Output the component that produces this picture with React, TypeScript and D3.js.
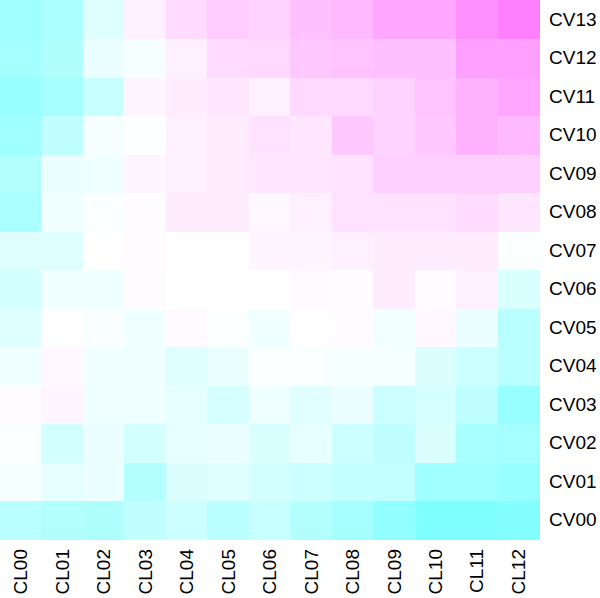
import React from "react";
import * as d3 from "d3";

const columns = ["CL00","CL01","CL02","CL03","CL04","CL05","CL06","CL07","CL08","CL09","CL10","CL11","CL12"];
const rows = ["CV00","CV01","CV02","CV03","CV04","CV05","CV06","CV07","CV08","CV09","CV10","CV11","CV12","CV13"];

// values per row (CV00..CV13), each across CL00..CL12; -1 = cyan, +1 = magenta
const cv00 = [-0.55,-0.6,-0.62,-0.5,-0.4,-0.55,-0.43,-0.6,-0.7,-0.87,-1,-1,-0.98];
const cv01 = [-0.08,-0.2,-0.15,-0.6,-0.28,-0.25,-0.35,-0.4,-0.47,-0.47,-0.75,-0.75,-0.82];
const cv02 = [-0.04,-0.35,-0.15,-0.35,-0.2,-0.15,-0.3,-0.2,-0.4,-0.5,-0.28,-0.67,-0.7];
const cv03 = [0.02,0.08,-0.12,-0.12,-0.2,-0.32,-0.12,-0.23,-0.15,-0.4,-0.32,-0.5,-0.82];
const cv04 = [-0.12,0.05,-0.12,-0.12,-0.25,-0.15,-0.04,-0.04,-0.08,-0.08,-0.28,-0.4,-0.55];
const cv05 = [-0.25,0,-0.05,-0.12,0.04,-0.03,-0.12,0,0.02,-0.1,0.05,-0.15,-0.55];
const cv06 = [-0.35,-0.12,-0.12,0.02,0,0,0,0.04,0.02,0.15,0.02,0.12,-0.3];
const cv07 = [-0.25,-0.25,0,0.03,0,0,0.08,0.08,0.12,0.15,0.15,0.15,-0.02];
const cv08 = [-0.65,-0.12,-0.04,0.02,0.15,0.15,0.05,0.12,0.23,0.23,0.23,0.28,0.2];
const cv09 = [-0.6,-0.15,-0.12,0.08,0.12,0.15,0.2,0.2,0.23,0.38,0.38,0.38,0.38];
const cv10 = [-0.75,-0.5,-0.08,-0.02,0.12,0.15,0.23,0.2,0.43,0.35,0.43,0.6,0.55];
const cv11 = [-0.82,-0.7,-0.43,0.08,0.15,0.2,0.12,0.3,0.3,0.35,0.47,0.6,0.7];
const cv12 = [-0.72,-0.62,-0.15,-0.08,0.12,0.28,0.3,0.43,0.47,0.5,0.5,0.75,0.75];
const cv13 = [-0.75,-0.65,-0.25,0.12,0.28,0.4,0.35,0.5,0.55,0.7,0.7,0.87,1.0];

const values = [cv00,cv01,cv02,cv03,cv04,cv05,cv06,cv07,cv08,cv09,cv10,cv11,cv12,cv13];

export default function App() {
  const W = 600, H = 598;
  const plotW = 539, plotH = 539;
  const fs = 19;
  const x = d3.scaleBand<string>().domain(columns).range([0, plotW]).padding(0);
  const y = d3.scaleBand<string>().domain([...rows].reverse()).range([0, plotH]).padding(0);
  const color = d3.scaleLinear<string>()
    .domain([-1, 0, 1])
    .range(["#80FFFF", "#FFFFFF", "#FF80FF"])
    .interpolate(d3.interpolateRgb)
    .clamp(true);

  const cells: { r: string; c: string; v: number }[] = [];
  rows.forEach((r, i) => columns.forEach((c, j) => cells.push({ r, c, v: values[i][j] })));

  return (
    <svg width={W} height={H} style={{ position: "absolute", left: 0, top: 0, background: "#fff" }}
      fontFamily="'Liberation Sans', Arial, Helvetica, sans-serif">
      <g shapeRendering="crispEdges">
        {cells.map((d) => (
          <rect key={d.r + d.c} x={x(d.c)} y={y(d.r)} width={x.bandwidth() + 0.5} height={y.bandwidth() + 0.5}
            fill={color(d.v)} />
        ))}
      </g>
      {rows.map((r) => (
        <text key={r} x={549} y={(y(r) as number) + y.bandwidth() / 2 + fs * 0.35} fontSize={fs} fill="#000">{r}</text>
      ))}
      {columns.map((c) => {
        const cx = (x(c) as number) + x.bandwidth() / 2;
        return (
          <text key={c} transform={`translate(${cx + fs * 0.35},${549}) rotate(-90)`} textAnchor="end" fontSize={fs} fill="#000">{c}</text>
        );
      })}
    </svg>
  );
}
